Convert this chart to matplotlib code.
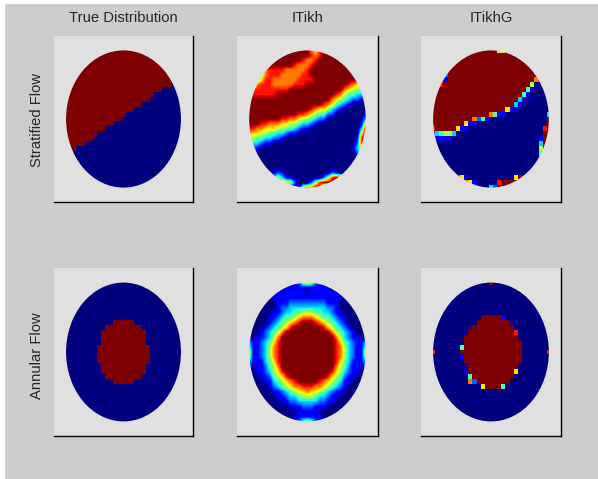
import numpy as np
import matplotlib
import matplotlib.pyplot as plt
from matplotlib.patches import Circle, Rectangle

matplotlib.use('Agg')

W, H = 598, 479
NCELL = 29

col_titles = ["True Distribution", "ITikh", "ITikhG"]
row_titles = ["Stratified Flow", "Annular Flow"]

# true stratified: number of red cells from the left, one entry per row
strat_true_red = [29, 29, 29, 29, 29, 29, 27, 26, 24, 22, 21, 19, 17, 15, 14, 12,
                  10, 8, 7, 5, 3, 2, 0, 0, 0, 0, 0, 0, 0]

# true annular: red span per row, rows 8 to 20
annular_true_first_row = 8
annular_true_left = [12, 10, 9, 9, 9, 8, 8, 8, 8, 9, 9, 10, 12]
annular_true_right = [17, 19, 20, 20, 20, 21, 21, 21, 21, 20, 20, 19, 17]

# digits are levels 0 (dark blue) to 9 (dark red), one string per row, top to bottom
strat_itikh = [
    "9"*15 + "768" + "9"*11,
    "9"*15 + "878" + "9"*11,
    "9"*13 + "8778" + "9"*12,
    "9"*11 + "87778" + "9"*13,
    "4444" + "7" + "8888" + "77777" + "8" + "9"*14,
    "333" + "5" + "7" + "888" + "77777" + "88" + "9"*14,
    "444" + "6" + "88" + "777777" + "88" + "88" + "9"*11 + "888",
    "55" + "7" + "888" + "77777" + "888" + "9"*10 + "87666",
    "8"*10 + "9"*13 + "765544",
    "8"*7 + "9"*14 + "87544332",
    "9"*20 + "765432211",
    "9"*18 + "8764321" + "0000",
    "9"*15 + "87665321" + "0"*6,
    "9"*12 + "887654422" + "0"*7 + "1",
    "9"*8 + "88776554322" + "0"*8 + "03",
    "999" + "88777" + "6655" + "4332" + "1" + "0"*10 + "16",
    "887766655443211" + "0"*12 + "39",
    "766554433211" + "0"*14 + "069",
    "5544332210" + "0"*16 + "189",
    "433211" + "0"*20 + "288",
    "221" + "0"*22 + "1355",
    "11" + "0"*24 + "222",
    "0"*29,
    "0"*29,
    "0"*29,
    "0"*6 + "121" + "0"*11 + "21" + "0"*7,
    "0"*6 + "35311" + "0"*7 + "25898" + "0"*6,
    "0"*8 + "7652" + "000" + "2589998" + "0"*7,
    "0"*13 + "67798" + "0"*11,
]

strat_itikhg = [
    "9"*16 + "66" + "9"*11,
    "9"*29,
    "9"*29,
    "9"*29,
    "9"*29,
    "999" + "2" + "9"*25,
    "999" + "1" + "9"*21 + "7" + "000",
    "998" + "9"*21 + "5" + "0000",
    "9"*23 + "4" + "10000",
    "9"*22 + "4" + "100000",
    "9"*21 + "31" + "0"*6,
    "9"*20 + "31" + "0"*7,
    "9"*18 + "611" + "0"*8,
    "9"*14 + "7411" + "0"*10 + "3",
    "9"*10 + "7241" + "0"*14 + "9",
    "9"*8 + "611" + "0"*17 + "9",
    "8" + "9"*5 + "611" + "0"*18 + "89",
    "1" + "34553" + "0"*21 + "99",
    "0" + "1111" + "0"*21 + "1" + "99",
    "0"*26 + "3" + "99",
    "0"*26 + "5" + "99",
    "0"*26 + "4" + "00",
    "0"*29,
    "0"*29,
    "0"*29,
    "0"*29,
    "0"*6 + "261" + "0"*11 + "699" + "0"*6,
    "0"*8 + "761" + "0"*5 + "8" + "9"*6 + "0"*6,
    "0"*14 + "3299" + "0"*11,
]

# left half incl. centre column, mirrored below
annular_itikh_half = [
    "000000000001256",
    "000000000111111",
    "000000011111110",
    "000000111111111",
    "000000011122222",
    "000000012233333",
    "000000112334455",
    "000001123445677",
    "000001234567899",
    "000012345689999",
    "000123457999999",
    "001123579999999",
    "311234689999999",
    "411235789999999",
    "611235789999999",
    "511235789999999",
    "311134689999999",
    "201124579999999",
    "001123568999999",
    "000112456899999",
    "000011345678999",
    "000001234567788",
    "000000112345667",
    "000000011233455",
    "000000001122333",
    "000000000011122",
    "000000000000111",
    "000000000001111",
    "000000000001245",
]

annular_itikhg = [
    "0"*14 + "9" + "0"*14,
    "0"*29,
    "0"*29,
    "0"*29,
    "0"*29,
    "0"*29,
    "0"*29,
    "0"*12 + "99999" + "1" + "0"*11,
    "0"*11 + "9"*8 + "0"*10,
    "0"*10 + "9"*10 + "0"*9,
    "0"*9 + "9"*11 + "8" + "0"*8,
    "0"*8 + "9"*13 + "0"*8,
    "0"*8 + "9"*14 + "0"*7,
    "0"*7 + "4" + "9"*14 + "0"*7,
    "8" + "0"*6 + "9"*15 + "0"*6 + "8",
    "0"*7 + "1" + "9"*14 + "0"*7,
    "0"*8 + "9"*14 + "0"*7,
    "0"*9 + "9"*12 + "0"*8,
    "0"*8 + "1" + "9"*11 + "6" + "0"*8,
    "0"*9 + "4" + "9"*10 + "0"*9,
    "0"*9 + "72" + "9"*8 + "0"*10,
    "0"*12 + "6" + "9999" + "4" + "0"*11,
    "0"*29,
    "0"*29,
    "0"*29,
    "0"*29,
    "0"*29,
    "0"*29,
    "0"*29,
]

# axes boxes in pixels: left, right, top, bottom
col_px = [(54, 193), (237, 378), (421, 561)]
row_px = [(36, 202), (268, 436)]


def levels(rows):
    grid = [[int(c) for c in r.ljust(NCELL, r[-1])[:NCELL]] for r in rows]
    return np.array(grid) / 9.0


strat_true = np.zeros((NCELL, NCELL))
for j, n in enumerate(strat_true_red):
    strat_true[j, :n] = 1.0

annular_true = np.zeros((NCELL, NCELL))
for k, (a, b) in enumerate(zip(annular_true_left, annular_true_right)):
    annular_true[annular_true_first_row + k, a:b] = 1.0

annular_itikh = [r + r[-2::-1] for r in annular_itikh_half]

panels = [
    [(strat_true, 'nearest'), (levels(strat_itikh), 'bilinear'), (levels(strat_itikhg), 'nearest')],
    [(annular_true, 'nearest'), (levels(annular_itikh), 'bilinear'), (levels(annular_itikhg), 'nearest')],
]

fig = plt.figure(figsize=(W/100, H/100), dpi=100, facecolor='white')
plt.rcParams['font.family'] = ['Liberation Sans', 'DejaVu Sans']

# grey window area, white only on the left and top edges
fig.add_artist(Rectangle((5/W, 0), 593/W, 475/H, transform=fig.transFigure,
                         facecolor='#cdcdcd', edgecolor='none', zorder=-1))

for r, (top, bottom) in enumerate(row_px):
    for c, (left, right) in enumerate(col_px):
        ax = fig.add_axes([left/W, 1 - bottom/H, (right - left)/W, (bottom - top)/H])
        ax.set_facecolor('#e0e0e0')
        field, interp = panels[r][c]
        # image a bit larger than the disc so the clip is never cut by the image edge
        im = ax.imshow(field, cmap='jet', vmin=0, vmax=1, extent=[-1.03, 1.03, -1.03, 1.03],
                       aspect='auto', interpolation=interp)
        disc = Circle((0, 0), 1.0, transform=ax.transData)
        im.set_clip_path(disc)
        ax.set_xlim(-1.21, 1.21)
        ax.set_ylim(-1.21, 1.21)
        ax.set_xticks([])
        ax.set_yticks([])
        ax.spines['left'].set_visible(False)
        ax.spines['top'].set_visible(False)
        ax.spines['right'].set_linewidth(1.0)
        ax.spines['bottom'].set_linewidth(1.0)

for (left, right), title in zip(col_px, col_titles):
    fig.text((left + right)/2/W, 1 - 18/H, title, ha='center', va='center', fontsize=10.6, color='#262626')

for y, label in zip([120, 356], row_titles):
    fig.text(37/W, 1 - y/H, label, ha='center', va='center', rotation=90, fontsize=10.6, color='#262626')

fig.savefig('out.png', dpi=100, facecolor=fig.get_facecolor())
plt.close(fig)
